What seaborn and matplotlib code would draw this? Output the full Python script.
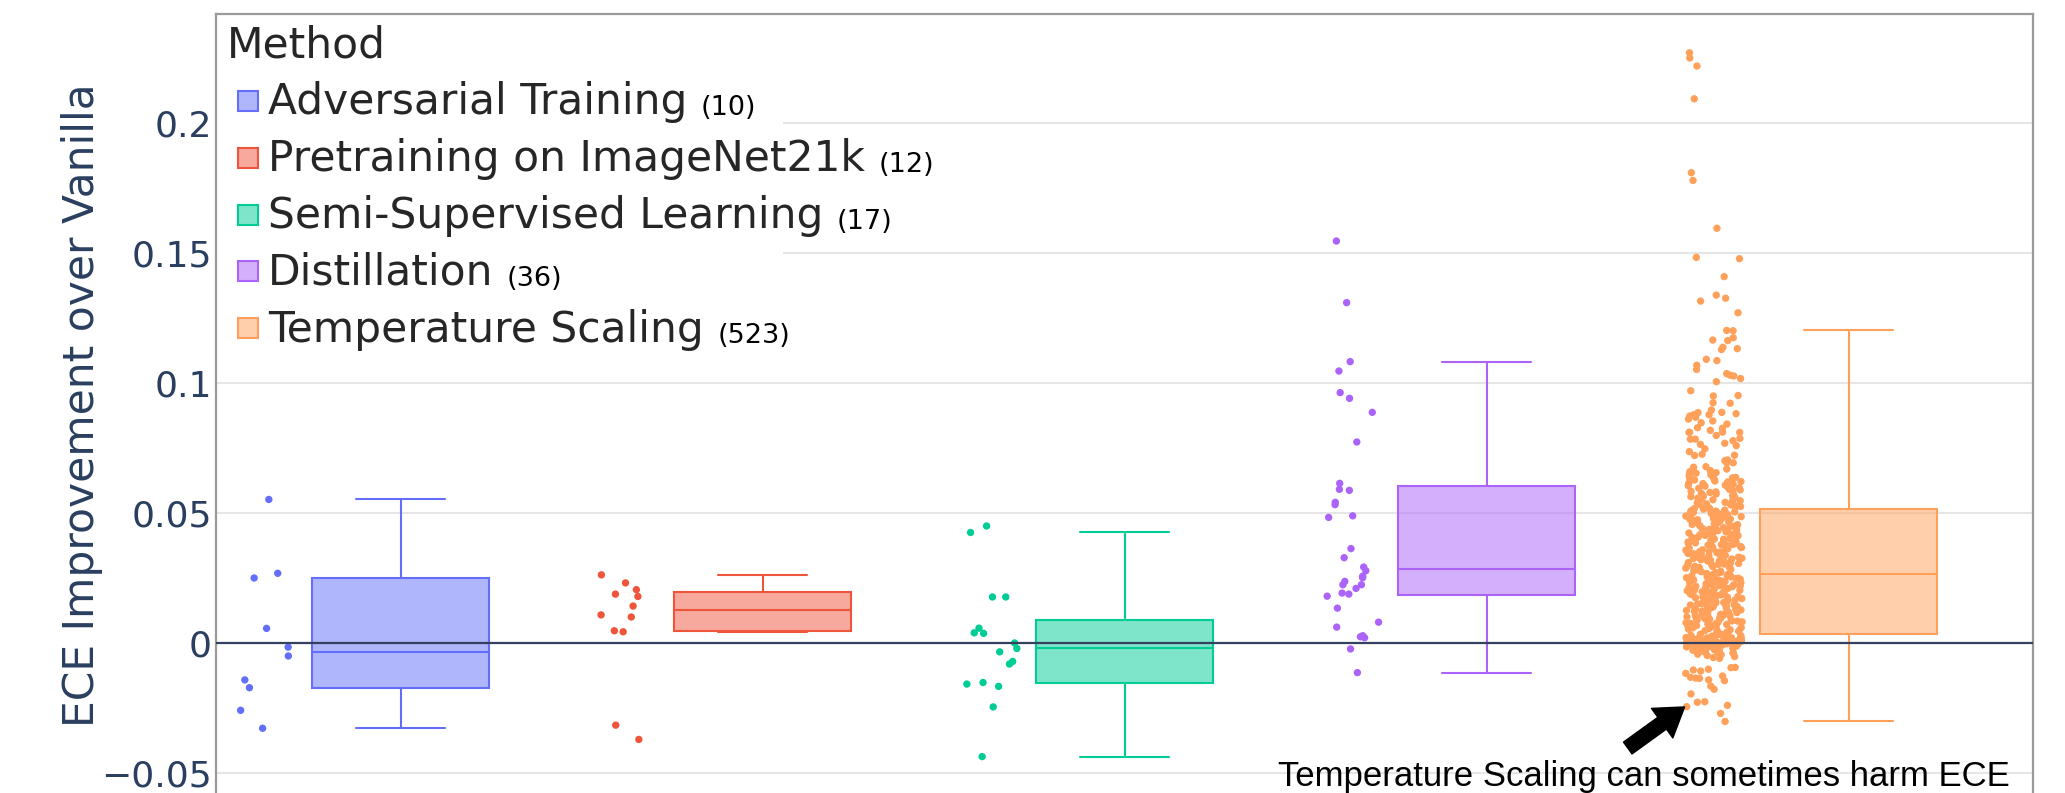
import numpy as np
import pandas as pd
import matplotlib
matplotlib.use("Agg")
import matplotlib.pyplot as plt
from matplotlib.lines import Line2D
from matplotlib.patches import Rectangle
from matplotlib.colors import to_rgba
import seaborn as sns

methods = ["Adversarial Training", "Pretraining on ImageNet21k",
           "Semi-Supervised Learning", "Distillation", "Temperature Scaling"]
colors = ["#636EFA", "#EF553B", "#00CC96", "#AB63FA", "#FFA15A"]

adversarial = [0.0551, 0.0267, 0.0249, 0.0055, -0.0017, -0.0051, -0.0143,
               -0.0173, -0.0260, -0.0329]
pretraining = [0.0261, 0.0230, 0.0204, 0.0187, 0.0178, 0.0141, 0.0107, 0.0099,
               0.0046, 0.0042, -0.0317, -0.0372]
semi_supervised = [0.0449, 0.0424, 0.0176, 0.0176, 0.0056, 0.0038, 0.0036,
                   -0.0001, -0.0022, -0.0035, -0.0072, -0.0082, -0.0153,
                   -0.0159, -0.0168, -0.0247, -0.0438]
distillation = [0.1545, 0.1308, 0.1081, 0.1045, 0.0962, 0.0940, 0.0886, 0.0772,
                0.0613, 0.0590, 0.0586, 0.0540, 0.0531, 0.0488, 0.0482, 0.0362,
                0.0327, 0.0291, 0.0277, 0.0256, 0.0250, 0.0236, 0.0223, 0.0223,
                0.0209, 0.0191, 0.0187, 0.0179, 0.0133, 0.0079, 0.0060, 0.0027,
                0.0023, 0.0019, -0.0024, -0.0115]

# temperature scaling, values in units of 1e-4 (dense cloud estimated by band)
ts_outliers = [2269, 2249, 2218, 2092, 1808, 1778, 1594, 1482, 1477, 1408,
               1337, 1325, 1314, 1269, 1200, 1201, 1164, 1173, 1162, 1136,
               1131, 1128, 1090, 1085, 1067, 1051, 1035, 1029, 1016, 1026, 1004]
ts_upper = [969, 949, 951, 921, 923, 895, 885, 867, 872, 881, 886, 877, 877,
            860, 827, 841, 825, 853, 846, 810, 809, 817, 809, 809, 783, 786,
            797, 777, 783, 763, 767, 758, 746, 735, 721, 725, 703, 720, 700,
            692, 692, 677, 668, 675]
ts_top_q = [514, 518, 522, 516, 526, 530, 524, 534, 538, 532, 542, 546, 540, 550, 554, 548, 558, 562, 556, 566,
            570, 564, 574, 578, 572, 582, 586, 580, 590, 594, 588, 598, 602, 596, 606, 610, 604, 614, 618, 612,
            622, 626, 620, 630, 634, 628, 638, 642, 636, 646, 650, 644, 654, 658, 652, 662]
ts_q3 = [264, 268, 271, 266, 275, 279, 273, 282, 286, 280, 289, 293, 287, 296, 300, 294, 303, 307, 301, 310,
         314, 308, 317, 321, 315, 324, 328, 322, 331, 335, 329, 338, 342, 336, 345, 349, 343, 352, 356, 350,
         359, 363, 357, 366, 370, 364, 373, 377, 371, 380, 384, 378, 387, 391, 385, 394, 398, 392, 401, 405,
         399, 408, 412, 406, 415, 419, 413, 422, 426, 420, 429, 433, 427, 436, 440, 434, 443, 447, 441, 450,
         454, 448, 457, 461, 455, 464, 468, 462, 471, 475, 469, 478, 482, 476, 485, 489, 483, 492, 496, 490,
         499, 503, 497, 506, 510, 504, 512, 508, 501, 487, 473, 459, 445, 431, 417, 403, 389, 375, 361, 347,
         333, 319, 305, 291, 277, 269, 325, 381, 437, 493, 353]
ts_q2 = [36, 35, 41, 38, 44, 47, 40, 52, 49, 55, 58, 46, 61, 63, 57, 66, 70, 68, 73, 65,
         77, 72, 80, 84, 79, 87, 83, 90, 94, 88, 97, 92, 101, 99, 105, 103, 96, 109, 112, 107,
         115, 118, 113, 121, 116, 124, 127, 122, 130, 126, 133, 136, 131, 139, 142, 137, 145, 148, 141, 151,
         154, 149, 157, 160, 155, 163, 159, 166, 169, 164, 172, 175, 170, 178, 181, 176, 184, 187, 182, 190,
         193, 188, 196, 199, 194, 202, 205, 200, 208, 211, 206, 214, 217, 212, 220, 223, 218, 226, 229, 224,
         232, 235, 230, 238, 241, 236, 244, 247, 242, 250, 253, 248, 256, 259, 254, 262, 257, 260, 245, 233,
         215, 197, 185, 173, 146, 128, 104, 86, 74, 62, 50]
ts_zero = [-57, -53, -49, -46, -44, -41, -38, -37, -34, -32, -30, -29, -27, -25, -24, -22, -21, -19, -18, -17,
           -16, -15, -14, -13, -12, -12, -11, -10, -9, -9, -8, -7, -7, -6, -5, -5, -4, -4, -3, -3,
           -2, -2, -2, -1, -1, -1, 0, 0, 0, 0, 0, 0, 0, 0, 1, 1, 1, 1, 2, 2,
           2, 3, 3, 3, 4, 4, 5, 5, 6, 6, 7, 7, 8, 9, 9, 10, 11, 11, 12, 13,
           14, 14, 15, 16, 17, 18, 19, 20, 21, 22, 23, 24, 25, 26, 27, 28, 30, 31, 32, 33,
           0, -1, 1, -2, 2, 4, -6, 10]
ts_negative = [-60, -95, -96, -102, -105, -109, -118, -128, -133, -136, -137,
               -143, -146, -167, -179, -197, -227, -229, -241, -246, -272, -303]
temperature = list(np.array(ts_outliers + ts_upper + ts_top_q + ts_q3 + ts_q2
                            + ts_zero + ts_negative) / 1e4)

groups = [adversarial, pretraining, semi_supervised, distillation, temperature]
counts = [len(g) for g in groups]

rows = []
for i, (m, vals) in enumerate(zip(methods, groups)):
    for v in vals:
        rows.append({"method": m, "value": v, "pos": i})
df = pd.DataFrame(rows)
df["strip_pos"] = df["pos"] - 0.372

sns.set_theme(style="white")
plt.rcParams["font.family"] = ["DejaVu Sans"]

fig = plt.figure(figsize=(20.65, 7.93), dpi=100)
ax = fig.add_axes([0.1046, 0.0, 0.88, 0.9823])

# plotly-style quartiles (n*p + 0.5 position) for the boxes
_percentile = np.percentile
np.percentile = lambda a, q, *args, **kw: _percentile(a, q, method="hazen")
sns.boxplot(data=df, x="pos", y="value", hue="method", hue_order=methods,
            palette=colors, native_scale=True, width=0.49, linewidth=1.5,
            showfliers=False, whis=1.5, legend=False, ax=ax)
np.percentile = _percentile

for cont, c in zip(ax.containers, colors):
    for box in getattr(cont, "boxes", []):
        box.set_facecolor(to_rgba(c, 0.5))
        box.set_edgecolor(c)
    for name in ("whiskers", "caps", "medians"):
        for ln in getattr(cont, name, []):
            ln.set_color(c)

np.random.seed(3)
sns.stripplot(data=df, x="strip_pos", y="value", hue="method", hue_order=methods,
              palette=colors, native_scale=True, jitter=0.078, size=5.3,
              linewidth=0, legend=False, zorder=2, ax=ax)

ax.axhline(0, color="#34425f", lw=1.6, zorder=4)

ax.set_xlim(-0.51, 4.51)
ax.set_ylim(-0.0578, 0.2418)
ax.set_xticks([])
ax.set_xlabel("")
ax.set_yticks([-0.05, 0, 0.05, 0.1, 0.15, 0.2])
ax.set_yticklabels(["\u22120.05", "0", "0.05", "0.1", "0.15", "0.2"])
ax.tick_params(axis="y", length=0, pad=3, labelsize=26, labelcolor="#2a3f5f")
ax.yaxis.grid(True, color="#e6e6e6", lw=1.5)
ax.set_axisbelow(True)
ax.set_ylabel("ECE Improvement over Vanilla", fontsize=30.5, color="#2a3f5f")
ax.yaxis.set_label_coords(-0.062, 0.498)
for side in ("top", "left", "right"):
    ax.spines[side].set_color("#9a9a9a")
    ax.spines[side].set_linewidth(1.6)
ax.spines["bottom"].set_visible(False)

# white legend background covering the gridlines
ax.add_patch(Rectangle((0.0, 0.56), 0.312, 0.44, transform=ax.transAxes,
                       facecolor="white", edgecolor="none", zorder=1))

handles = [Line2D([], [], linestyle="none", marker="s", markersize=15,
                  markerfacecolor=to_rgba(c, 0.5), markeredgecolor=c,
                  markeredgewidth=1.5) for c in colors]
leg = ax.legend(handles, methods, title="Method", loc="upper left",
                bbox_to_anchor=(0.0, 1.0), frameon=False, alignment="left",
                prop={"size": 30.5}, title_fontproperties={"size": 30.5},
                handlelength=1.0, handleheight=0.5, handletextpad=-0.03,
                labelspacing=0.35, borderaxespad=0.15, borderpad=0.1)
for txt, n in zip(leg.get_texts(), counts):
    ax.annotate(f"({n})", xy=(1, 0), xycoords=txt, xytext=(10, 1.5),
                textcoords="offset points", fontsize=19.5, va="bottom",
                ha="left", color="black", zorder=6)

ax.annotate("", xy=(3.547, -0.0247), xytext=(3.390, -0.0405),
            arrowprops=dict(arrowstyle="simple,head_length=0.95,head_width=1.25,tail_width=0.5",
                            color="black", shrinkA=0, shrinkB=0, mutation_scale=21))
ax.text(3.435, -0.0551, "Temperature Scaling can sometimes harm ECE",
        ha="center", va="baseline", fontsize=25, family="Liberation Sans",
        color="black")

fig.canvas.draw()
fig.savefig("out.png", dpi=100)
